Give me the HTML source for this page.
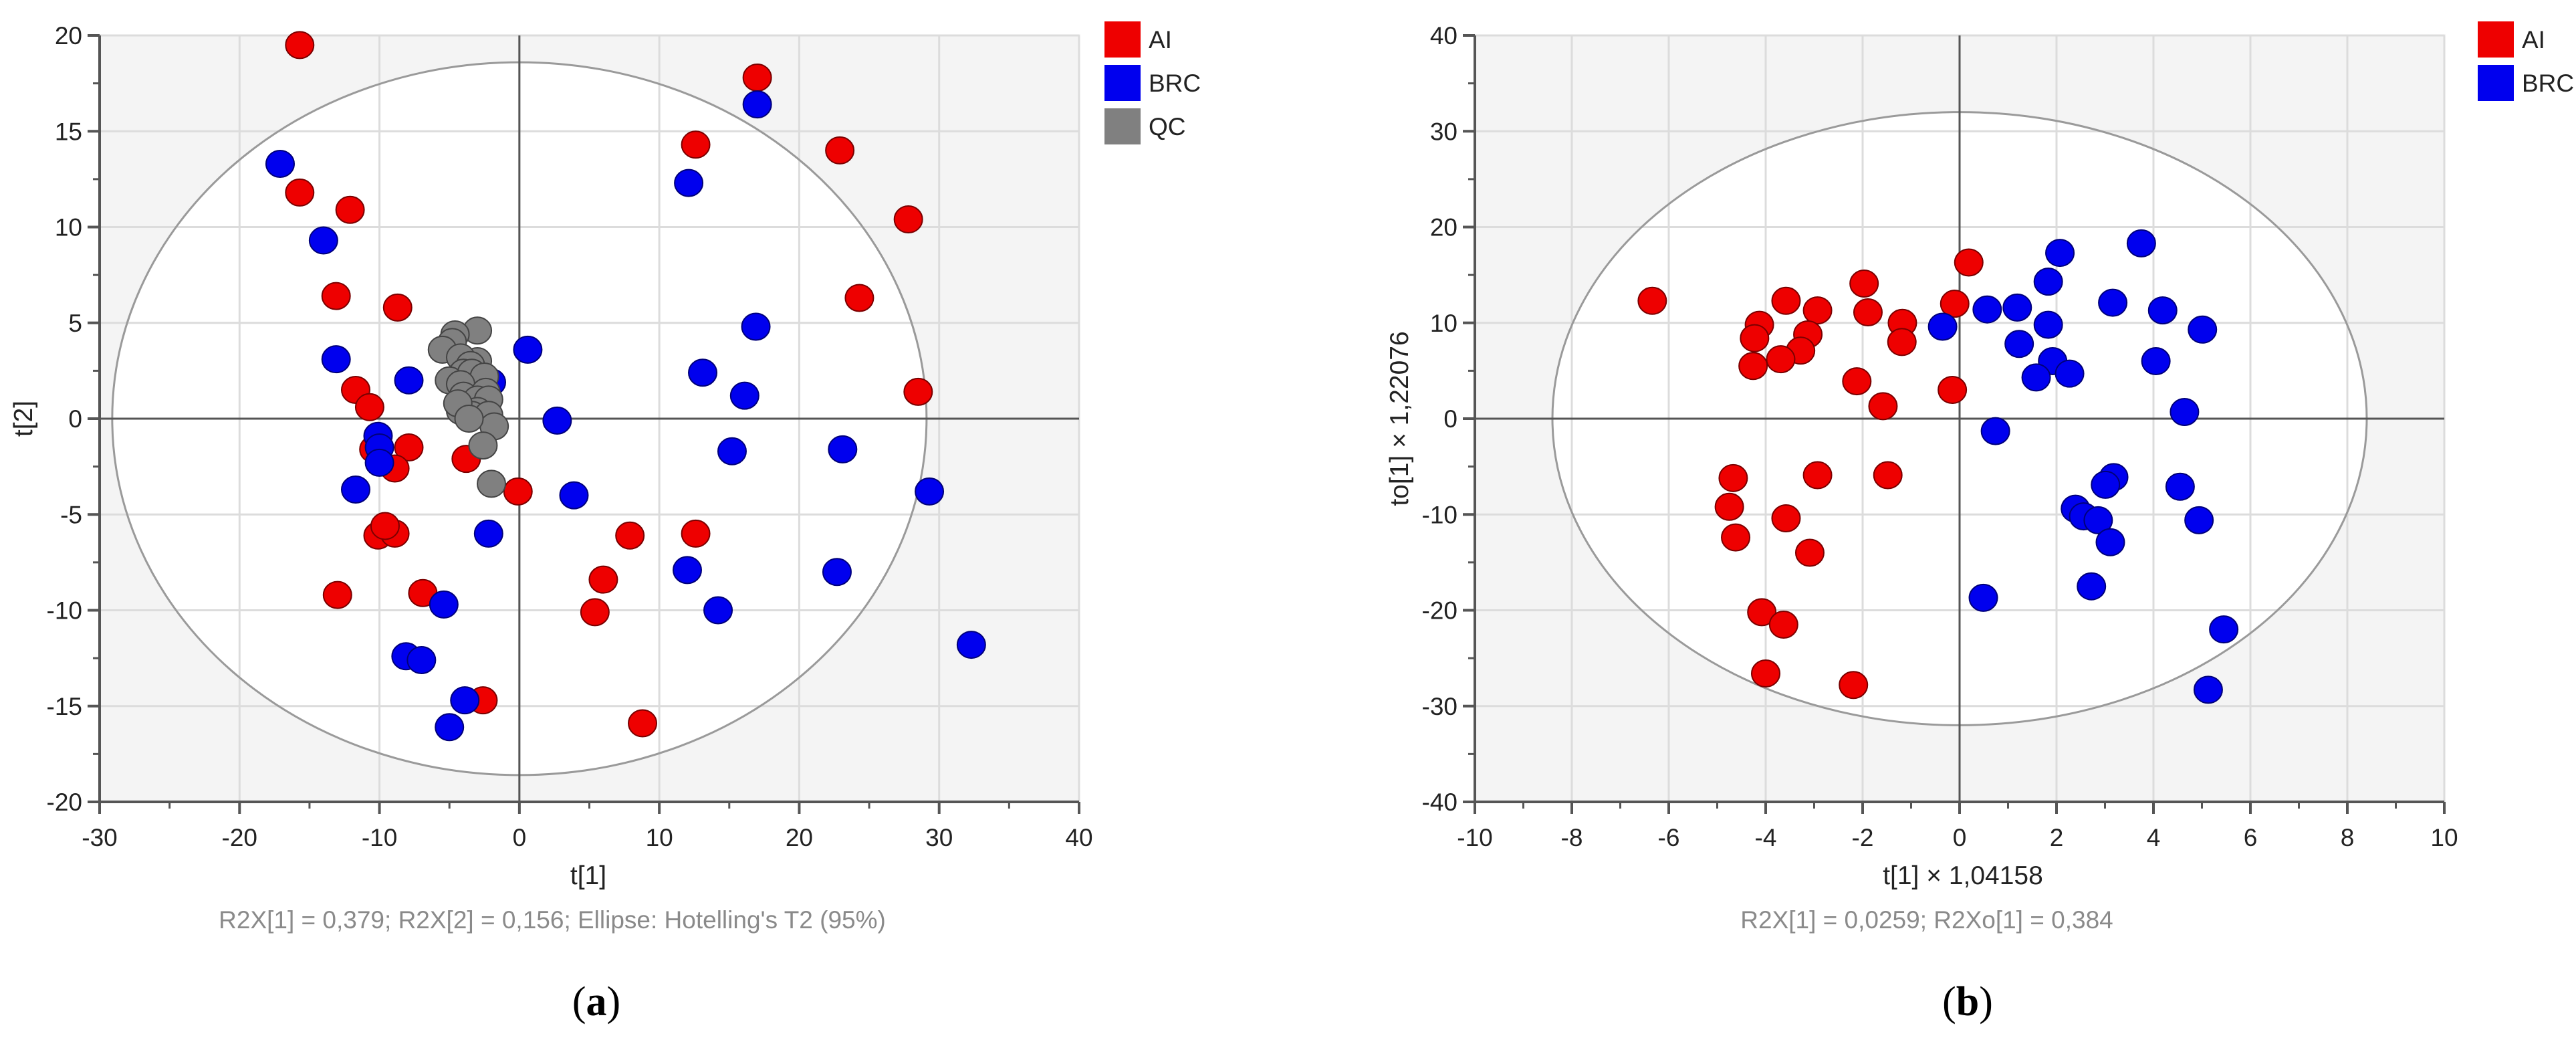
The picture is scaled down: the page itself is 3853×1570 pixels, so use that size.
<!DOCTYPE html>
<html><head><meta charset="utf-8"><style>
html,body{margin:0;padding:0;background:#fff;}
svg{display:block;font-family:"Liberation Sans","DejaVu Sans",sans-serif;}
</style></head><body>
<svg id="fig" width="3853" height="1570" viewBox="0 0 3853 1570"></svg>
<script>
// ---- Panel (a) data ----
const aiA = [[-15.7,19.5],[17.0,17.8],[12.6,14.3],[22.9,14.0],[-15.7,11.8],[-12.1,10.9],[27.8,10.4],[-13.1,6.4],[-8.7,5.8],[24.3,6.3],[28.5,1.4],[-11.7,1.5],[-10.7,0.6],[-10.4,-1.6],[-7.9,-1.5],[-8.9,-2.6],[-3.8,-2.1],[-0.1,-3.8],[-10.1,-6.1],[-8.9,-6.0],[-9.6,-5.6],[7.9,-6.1],[12.6,-6.0],[6.0,-8.4],[-13.0,-9.2],[-6.9,-9.1],[5.4,-10.1],[-2.6,-14.7],[8.8,-15.9]];
const brcA = [[17.0,16.4],[-17.1,13.3],[12.1,12.3],[-14.0,9.3],[16.9,4.8],[-13.1,3.1],[0.6,3.6],[-7.9,2.0],[13.1,2.4],[16.1,1.2],[2.7,-0.1],[-2.0,1.9],[-10.1,-0.9],[-10.0,-1.5],[-10.0,-2.3],[15.2,-1.7],[23.1,-1.6],[-11.7,-3.7],[3.9,-4.0],[29.3,-3.8],[-2.2,-6.0],[12.0,-7.9],[22.7,-8.0],[-5.4,-9.7],[14.2,-10.0],[32.3,-11.8],[-8.1,-12.4],[-7.0,-12.6],[-3.9,-14.7],[-5.0,-16.1]];
const qcA = [[-3.0,4.6],[-4.6,4.4],[-4.8,4.0],[-5.5,3.6],[-3.0,3.0],[-4.2,3.2],[-3.5,2.8],[-4.0,2.4],[-3.4,2.4],[-2.5,2.2],[-5.0,2.0],[-4.2,1.8],[-2.4,1.4],[-4.0,1.2],[-3.0,1.0],[-2.2,1.0],[-4.2,0.4],[-3.0,0.4],[-3.4,0.2],[-2.2,0.2],[-1.8,-0.4],[-2.6,-1.4],[-2.0,-3.4],[-4.4,0.8],[-3.6,0.0]];
const xTicksA = [-30,-20,-10,0,10,20,30,40];
const yTicksA = [-20,-15,-10,-5,0,5,10,15,20];
const ellipseA = [29.1,18.6];
// ---- Panel (b) data ----
const aiB = [[-6.34,12.3],[-3.58,12.3],[-2.93,11.3],[-1.97,14.1],[-1.89,11.1],[-1.18,10.0],[-1.19,8.0],[0.19,16.3],[-0.10,12.0],[-4.13,9.8],[-4.23,8.4],[-3.13,8.8],[-3.28,7.1],[-3.69,6.2],[-4.26,5.5],[-2.12,3.9],[-1.58,1.3],[-0.15,3.0],[-4.67,-6.2],[-2.93,-5.9],[-1.48,-5.9],[-4.75,-9.2],[-4.62,-12.4],[-3.58,-10.4],[-3.09,-14.0],[-4.08,-20.2],[-3.63,-21.5],[-4.0,-26.6],[-2.19,-27.8]];
const brcB = [[-0.35,9.6],[0.57,11.4],[1.19,11.6],[1.83,14.3],[2.07,17.3],[3.75,18.3],[3.16,12.1],[4.19,11.3],[5.01,9.3],[1.83,9.8],[1.23,7.8],[1.92,6.0],[1.58,4.3],[2.27,4.7],[4.05,6.0],[4.64,0.7],[0.74,-1.3],[3.18,-6.1],[3.01,-6.9],[4.55,-7.1],[2.39,-9.4],[2.56,-10.2],[2.86,-10.6],[3.11,-12.9],[4.94,-10.6],[2.72,-17.5],[0.49,-18.7],[5.45,-22.0],[5.13,-28.3]];
const xTicksB = [-10,-8,-6,-4,-2,0,2,4,6,8,10];
const yTicksB = [-40,-30,-20,-10,0,10,20,30,40];
const ellipseB = [8.4,32.0];

const NS='http://www.w3.org/2000/svg';
const svg=document.getElementById('fig');
function mk(tag,attrs,parent){const e=document.createElementNS(NS,tag);for(const k in attrs)e.setAttribute(k,attrs[k]);(parent||svg).appendChild(e);return e;}

function panel(o){
  const g=mk('g',{});
  
  
  const xs=v=>o.x0+(v-o.xmin)/(o.xmax-o.xmin)*(o.x1-o.x0);
  const ys=v=>o.y1-(v-o.ymin)/(o.ymax-o.ymin)*(o.y1-o.y0);
  const bg=mk('rect',{x:o.x0,y:o.y0,width:o.x1-o.x0,height:o.y1-o.y0,fill:'#f4f4f4',stroke:'#e4e4e4','stroke-width':3},g);
  
  
  const el=mk('ellipse',{cx:xs(0),cy:ys(0),rx:xs(o.ell[0])-xs(0),ry:ys(0)-ys(o.ell[1]),fill:'#fff'},g);
  
  
  o.xt.forEach(v=>{const l=mk('line',{x1:xs(v),x2:xs(v),y1:o.y0,y2:o.y1,stroke:'#dcdcdc','stroke-width':3},g);
    });
  o.yt.forEach(v=>{const l=mk('line',{x1:o.x0,x2:o.x1,y1:ys(v),y2:ys(v),stroke:'#dcdcdc','stroke-width':3},g);
    });
  const e2=mk('ellipse',{cx:xs(0),cy:ys(0),rx:xs(o.ell[0])-xs(0),ry:ys(0)-ys(o.ell[1]),fill:'none',stroke:'#9a9a9a','stroke-width':3},g);
  
  
  const zx=mk('line',{x1:xs(0),x2:xs(0),y1:o.y0,y2:o.y1,stroke:'#555','stroke-width':3},g);
  
  const zy=mk('line',{x1:o.x0,x2:o.x1,y1:ys(0),y2:ys(0),stroke:'#555','stroke-width':3},g);
  
  // axes
  const ax=mk('line',{x1:o.x0,x2:o.x1,y1:o.y1,y2:o.y1,stroke:'#555','stroke-width':4},g);
  
  const ay=mk('line',{x1:o.x0,x2:o.x0,y1:o.y0,y2:o.y1,stroke:'#555','stroke-width':4},g);
  
  o.xt.forEach((v,i)=>{
    mk('line',{x1:xs(v),x2:xs(v),y1:o.y1,y2:o.y1+18,stroke:'#555','stroke-width':4},g);
    if(i<o.xt.length-1){const m=(v+o.xt[i+1])/2;mk('line',{x1:xs(m),x2:xs(m),y1:o.y1,y2:o.y1+10,stroke:'#555','stroke-width':3},g);}
    const t=mk('text',{x:xs(v),y:o.y1+66,'text-anchor':'middle','font-size':37,fill:'#222'},g);t.textContent=v;
    
  });
  o.yt.forEach((v,i)=>{
    mk('line',{x1:o.x0-18,x2:o.x0,y1:ys(v),y2:ys(v),stroke:'#555','stroke-width':4},g);
    if(i<o.yt.length-1){const m=(v+o.yt[i+1])/2;mk('line',{x1:o.x0-10,x2:o.x0,y1:ys(m),y2:ys(m),stroke:'#555','stroke-width':3},g);}
    const t=mk('text',{x:o.x0-26,y:ys(v)+13,'text-anchor':'end','font-size':37,fill:'#222'},g);t.textContent=v;
    
  });
  // points
  o.series.forEach(s=>{
    s.data.forEach(p=>{
      const c=mk('ellipse',{cx:xs(p[0]),cy:ys(p[1]),rx:21,ry:20,fill:s.color,stroke:s.stroke,'stroke-width':2},g);
      
      
    });
  });
  // legend
  o.series.forEach((s,i)=>{
    const r=mk('rect',{x:o.lx,y:32+i*65,width:54,height:54,fill:s.color},g);
    
    const t=mk('text',{x:o.lx+66,y:72+i*65,'font-size':37,fill:'#222'},g);t.textContent=s.label;
    
  });
  const xl=mk('text',{x:o.xlx,y:1322,'text-anchor':'middle','font-size':39,fill:'#222'},g);xl.textContent=o.xlabel;
  
  const yl=mk('text',{x:0,y:0,'text-anchor':'middle','font-size':39,fill:'#222',transform:`translate(${o.ylx},${ys(0)}) rotate(-90)`},g);yl.textContent=o.ylabel;
  
  const cp=mk('text',{x:o.cx,y:1388,'text-anchor':'middle','font-size':37,fill:'#8a8a8a'},g);cp.textContent=o.caption;
  
  const pl=mk('text',{x:o.px,y:1518,'text-anchor':'middle','font-size':62,fill:'#000','font-family':'"Liberation Serif",serif'},g);
  pl.innerHTML='(<tspan font-weight="bold">'+o.panel+'</tspan>)';
  
}

panel({name:'score-plot-a',x0:149,x1:1614,y0:53,y1:1199,xmin:-30,xmax:40,ymin:-20,ymax:20,xt:xTicksA,yt:yTicksA,ell:ellipseA,
  series:[{label:'AI',data:aiA,color:'#ee0000',stroke:'#7a0000'},{label:'BRC',data:brcA,color:'#0000ee',stroke:'#00007a'},{label:'QC',data:qcA,color:'#808080',stroke:'#444'}],
  lx:1652,xlabel:'t[1]',xlx:880,ylabel:'t[2]',ylx:48,caption:"R2X[1] = 0,379; R2X[2] = 0,156; Ellipse: Hotelling's T2 (95%)",cx:826,panel:'a',px:892});
panel({name:'score-plot-b',x0:2206,x1:3656,y0:53,y1:1199,xmin:-10,xmax:10,ymin:-40,ymax:40,xt:xTicksB,yt:yTicksB,ell:ellipseB,
  series:[{label:'AI',data:aiB,color:'#ee0000',stroke:'#7a0000'},{label:'BRC',data:brcB,color:'#0000ee',stroke:'#00007a'}],
  lx:3706,xlabel:'t[1] × 1,04158',xlx:2936,ylabel:'to[1] × 1,22076',ylx:2106,caption:'R2X[1] = 0,0259; R2Xo[1] = 0,384',cx:2882,panel:'b',px:2943});
</script>
</body></html>
